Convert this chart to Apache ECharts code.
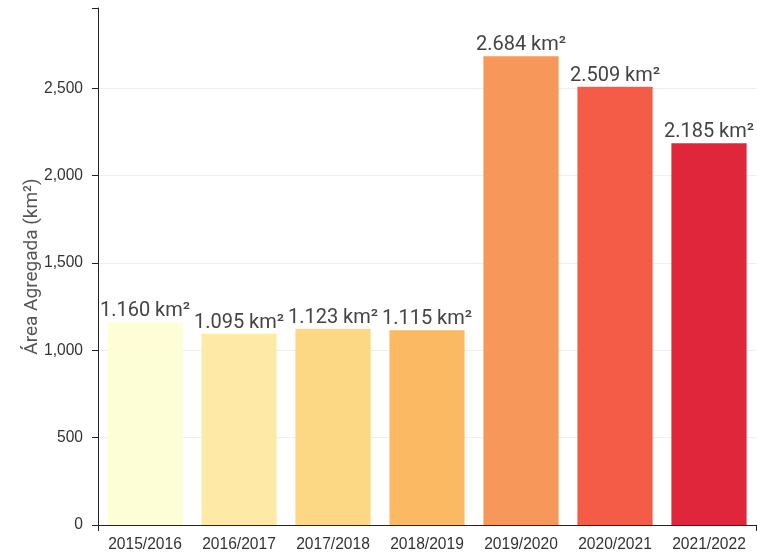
<!DOCTYPE html>
<html>
<head>
<meta charset="utf-8">
<script src="https://cdn.jsdelivr.net/npm/echarts@6/dist/echarts.min.js"></script>
<style>
  html, body { margin: 0; padding: 0; background: #fff; }
  #chart { width: 757px; height: 558px; }
</style>
</head>
<body>
<div id="chart"></div>
<script>
// Aggregated burned area per season (km²)
const seasons = ['2015/2016', '2016/2017', '2017/2018', '2018/2019', '2019/2020', '2020/2021', '2021/2022'];
const areas = [1160, 1095, 1123, 1115, 2684, 2509, 2185];
const barColors = ['#fefed6', '#feeaa6', '#fdd884', '#fbb964', '#f7975a', '#f55c47', '#e0263b'];
const yTicks = [0, 500, 1000, 1500, 2000, 2500];

const fmtThousands = v => v.toLocaleString('en-US');
const fmtArea = v => v.toLocaleString('de-DE') + ' km²';

const tickFont = 'Liberation Sans, Arial, sans-serif';
const axisColor = '#222';

// helper axis that only draws the outer ticks at both ends of the domain
const endTicks = (extra) => Object.assign({
  type: 'value',
  min: 0, max: 1, interval: 1,
  axisLine: { show: false },
  axisTick: { show: true, length: 6, lineStyle: { color: axisColor } },
  axisLabel: { show: false },
  splitLine: { show: false }
}, extra);

const chart = echarts.init(document.getElementById('chart'));
chart.setOption({
  animation: false,
  grid: { left: 98, right: 1, top: 8, bottom: 33 },
  xAxis: [{
    type: 'category',
    data: seasons,
    axisLine: { lineStyle: { color: axisColor, width: 1 } },
    axisTick: { alignWithLabel: true, length: 6, lineStyle: { color: axisColor } },
    axisLabel: { interval: 0, color: '#333', fontFamily: tickFont, fontSize: 15.6, margin: 12 }
  }, endTicks({ position: 'bottom' })],
  yAxis: [{
    type: 'value',
    min: 0,
    max: 2960,
    interval: 500,
    name: 'Área Agregada (km²)',
    nameLocation: 'middle',
    nameGap: 56,
    nameMoveOverlap: false,
    nameTextStyle: { color: '#555', fontFamily: 'Roboto, sans-serif', fontSize: 19 },
    axisLine: { show: true, lineStyle: { color: axisColor, width: 1 } },
    axisTick: { show: true, length: 6, lineStyle: { color: axisColor } },
    axisLabel: {
      color: '#333', fontFamily: tickFont, fontSize: 15.6, margin: 15,
      showMaxLabel: false,
      formatter: v => (yTicks.includes(v) ? fmtThousands(v) : '')
    },
    splitLine: { show: true, showMaxLine: false, showMinLine: false, lineStyle: { color: '#efefef', width: 1 } }
  }, endTicks({ position: 'left' })],
  series: [{
    type: 'bar',
    xAxisIndex: 0,
    yAxisIndex: 0,
    barCategoryGap: '20%',
    data: areas.map((v, i) => ({ value: v, itemStyle: { color: barColors[i] } })),
    label: {
      show: true,
      position: 'top',
      distance: 1,
      color: '#444',
      fontFamily: 'Roboto, sans-serif',
      fontSize: 20,
      formatter: p => fmtArea(p.value)
    }
  }]
});
</script>
</body>
</html>
